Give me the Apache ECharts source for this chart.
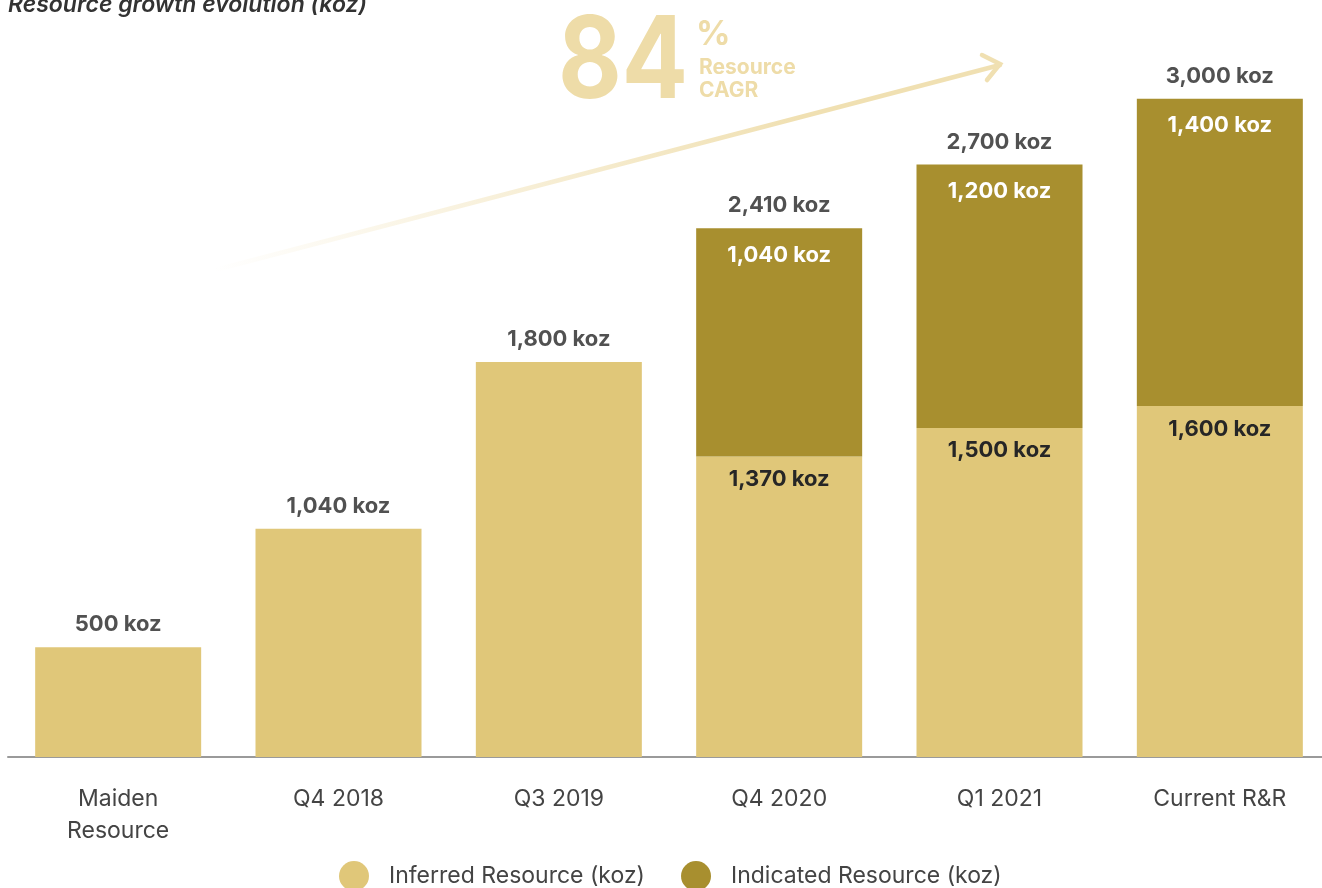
<!DOCTYPE html>
<html>
<head>
<meta charset="utf-8">
<script src="https://cdn.jsdelivr.net/npm/echarts@6/dist/echarts.min.js"></script>
<style>
html,body{margin:0;padding:0;background:#fff;}
#chart{width:1322px;height:888px;}
</style>
</head>
<body>
<div id="chart"></div>
<script>
const categories = ['Maiden\nResource', 'Q4 2018', 'Q3 2019', 'Q4 2020', 'Q1 2021', 'Current R&R'];
const inferred = [500, 1040, 1800, 1370, 1500, 1600];
const indicated = [0, 0, 0, 1040, 1200, 1400];
const totals = [500, 1040, 1800, 2410, 2700, 3000];
const seriesNames = ['Inferred Resource (koz)', 'Indicated Resource (koz)'];

const FONT = 'Inter';
const fmt = v => v.toLocaleString('en-US') + ' koz';

const chart = echarts.init(document.getElementById('chart'));

const arrowGrad = new echarts.graphic.LinearGradient(215, 270, 800, 118, [
  {offset: 0, color: 'rgba(240,224,178,0)'},
  {offset: 1, color: 'rgba(240,224,178,1)'}
], true);

chart.setOption({
  animation: false,
  backgroundColor: '#fff',
  textStyle: {fontFamily: FONT},
  grid: {left: 8, right: -8, top: 11, bottom: 131, outerBoundsMode: 'none', containLabel: false},
  xAxis: {
    type: 'category',
    data: categories,
    axisLine: {lineStyle: {color: '#9a9a9a', width: 2}},
    axisTick: {show: false},
    axisLabel: {color: '#444', fontSize: 23, lineHeight: 32, margin: 26, fontFamily: FONT}
  },
  yAxis: {type: 'value', min: 0, max: 3400, show: false, splitLine: {show: false}},
  legend: {
    data: seriesNames,
    left: 339, top: 861, padding: 0,
    icon: 'circle', itemWidth: 30, itemHeight: 30, itemGap: 36,
    textStyle: {color: '#444', fontSize: 23, fontFamily: FONT, padding: [0, 0, 0, 15]}
  },
  series: [
    {
      name: seriesNames[0], type: 'bar', stack: 'res', barWidth: 166,
      itemStyle: {color: '#E0C779'},
      data: inferred.map((v, i) => ({
        value: v,
        label: {show: indicated[i] > 0}
      })),
      label: {
        position: 'insideTop', distance: 12, color: '#262626',
        fontSize: 22, fontWeight: 'bold', fontFamily: FONT,
        formatter: p => fmt(p.value)
      }
    },
    {
      name: seriesNames[1], type: 'bar', stack: 'res', barWidth: 166,
      itemStyle: {color: '#A88F2F'},
      data: indicated.map(v => ({value: v, label: {show: v > 0}})),
      label: {
        position: 'insideTop', distance: 16, color: '#fff',
        fontSize: 22, fontWeight: 'bold', fontFamily: FONT,
        formatter: p => fmt(p.value)
      }
    },
    {
      name: 'Total', type: 'scatter', symbolSize: 1,
      itemStyle: {color: 'rgba(0,0,0,0)'},
      data: totals,
      z: 5,
      label: {
        show: true, position: 'top', distance: 11, color: '#262626',
        fontSize: 22, fontWeight: 'bold', fontFamily: FONT,
        formatter: p => fmt(p.value)
      },
      emphasis: {disabled: true}
    }
  ],
  graphic: [
    {
      type: 'text', left: 8, top: -6,
      style: {text: 'Resource growth evolution (koz)', fill: '#333', fontSize: 23,
        fontStyle: 'italic', fontWeight: 600, fontFamily: FONT}
    },
    {
      type: 'line', z: 0,
      shape: {x1: 215, y1: 270, x2: 1000, y2: 65},
      style: {stroke: arrowGrad, lineWidth: 4.5, lineCap: 'round'}
    },
    {
      type: 'polyline', z: 0,
      shape: {points: [[982, 55], [1000, 64], [987, 80]]},
      style: {stroke: '#F0E0B2', lineWidth: 4.5, lineCap: 'round', lineJoin: 'miter', fill: null}
    },
    {
      type: 'text', x: 558, y: 7, scaleX: 0.86,
      style: {text: '84', fill: '#EEDCA8', fontSize: 114, fontWeight: 'bold', fontFamily: FONT}
    },
    {
      type: 'text', left: 696, top: 18,
      style: {text: '%', fill: '#EEDCA8', fontSize: 34, fontWeight: 'bold', fontFamily: FONT}
    },
    {
      type: 'text', left: 699, top: 56,
      style: {text: 'Resource\nCAGR', fill: '#EEDCA8', fontSize: 21, lineHeight: 23, fontWeight: 'bold', fontFamily: FONT}
    }
  ]
});
</script>
</body>
</html>
